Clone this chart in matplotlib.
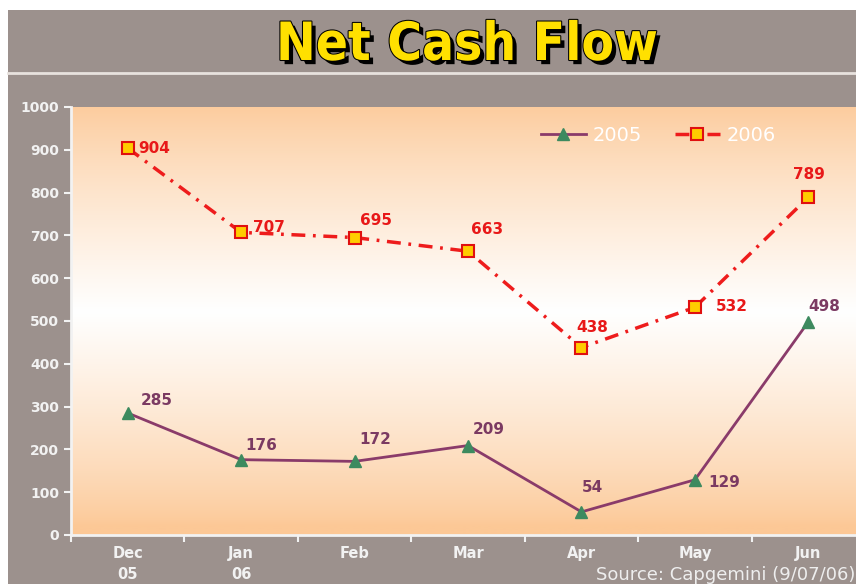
import matplotlib
matplotlib.use("Agg")
import matplotlib.pyplot as plt
import matplotlib.patheffects as pe
from matplotlib.patches import Rectangle
import numpy as np

months = ["Dec\n05", "Jan\n06", "Feb", "Mar", "Apr", "May", "Jun"]
cash_2005 = [285, 176, 172, 209, 54, 129, 498]
cash_2006 = [904, 707, 695, 663, 438, 532, 789]
y_ticks = [0, 100, 200, 300, 400, 500, 600, 700, 800, 900, 1000]

# label offsets in pixels (dx to left edge, dy up) for each value label
offs_2005 = [(13, 13), (4, 14), (5, 22), (5, 16), (0, 24), (13, -3), (0, 15)]
offs_2006 = [(11, 0), (12, 5), (5, 17), (3, 22), (-5, 20), (21, 1), (-15, 23)]

W, H = 856, 584
fig = plt.figure(figsize=(W / 100, H / 100), dpi=100)
fig.patch.set_facecolor("white")

bg = "#9c918d"
# gray panel with white margin on top/left
fig.patches.append(Rectangle((8 / W, 0), 1, 1 - 10 / H, transform=fig.transFigure,
                             facecolor=bg, edgecolor="none", zorder=-2))
fig.lines.append(plt.Line2D([8 / W, 1], [1 - 73 / H] * 2, transform=fig.transFigure,
                            color="#e8e2de", lw=2, zorder=-1))

ax = fig.add_axes([71 / W, (H - 535) / H, (856 - 71) / W, 428 / H])
ax.set_zorder(2)
ax.set_xlim(-0.5, 6.42)
ax.set_ylim(0, 1000)

# peach -> white -> peach vertical gradient
g = np.linspace(0, 1, 256)
t = np.clip(1 - np.abs(g - 0.52) / 0.5, 0, 1) ** 0.8
peach = np.array([252, 200, 150]) / 255.0
white = np.array([1.0, 1.0, 1.0])
grad = peach[None, :] * (1 - t[:, None]) + white[None, :] * t[:, None]
ax.imshow(grad[:, None, :], aspect="auto", extent=[-0.5, 6.42, 0, 1000],
          origin="lower", zorder=0)

x = np.arange(len(months))
ax.plot(x, cash_2005, color="#8a3b6a", lw=2, marker="^", markersize=8,
        markerfacecolor="#3d8a5f", markeredgecolor="#3d8a5f", label="2005", zorder=3)
ax.plot(x, cash_2006, color="#ee1c1c", lw=2.5, dashes=(4, 2.2, 0.8, 2.2), marker="s",
        markersize=8, markerfacecolor="#ffcc00", markeredgecolor="#e01010",
        markeredgewidth=1.5, label="2006", zorder=3)

for i, v in enumerate(cash_2005):
    dx, dy = offs_2005[i]
    ax.annotate(str(v), (i, v), xytext=(dx, dy), textcoords="offset pixels",
                ha="left", va="center", color="#7b3a62",
                fontsize=11, fontweight="bold", zorder=4)
for i, v in enumerate(cash_2006):
    dx, dy = offs_2006[i]
    ax.annotate(str(v), (i, v), xytext=(dx, dy), textcoords="offset pixels",
                ha="left", va="center", color="#e81818",
                fontsize=11, fontweight="bold", zorder=4)

ax.set_yticks(y_ticks)
ax.set_xticks(x)
ax.set_xticklabels(months, linespacing=1.5)
ax.set_xticks(np.arange(-0.5, 6.5, 1), minor=True)
ax.tick_params(axis="y", colors="#f2f2f2", labelsize=10, length=5, width=1.5)
ax.tick_params(axis="x", which="major", length=0, colors="#f2f2f2", labelsize=10.5, pad=8)
ax.tick_params(axis="x", which="minor", length=5, width=1.5, color="#f2f2f2")
for lab in ax.get_xticklabels() + ax.get_yticklabels():
    lab.set_fontweight("bold")
for s in ["top", "right"]:
    ax.spines[s].set_visible(False)
for s in ["left", "bottom"]:
    ax.spines[s].set_color("#f2f2f2")
    ax.spines[s].set_linewidth(2)

leg = ax.legend(loc="upper left", bbox_to_anchor=((541 - 71) / 785, 0.956), ncol=2,
                frameon=False, fontsize=14, handlelength=2.3, handletextpad=0.35,
                columnspacing=1.7, borderaxespad=0, borderpad=0)
for txt in leg.get_texts():
    txt.set_color("white")

fig.text(467 / W, 1 - 45 / H, "Net Cash Flow", ha="center", va="center",
         fontsize=38, fontweight="heavy", family="DejaVu Sans", stretch="condensed",
         color="#ffe000",
         path_effects=[pe.withSimplePatchShadow(offset=(3, -3), shadow_rgbFace="black",
                                                alpha=1.0),
                       pe.withStroke(linewidth=1.5, foreground="black")])

fig.text(1 - 1 / W, 1 - 575 / H, "Source: Capgemini (9/07/06)", ha="right", va="center",
         fontsize=13, color="#eeeeee")

fig.savefig("out.png", dpi=100, facecolor=fig.get_facecolor())
